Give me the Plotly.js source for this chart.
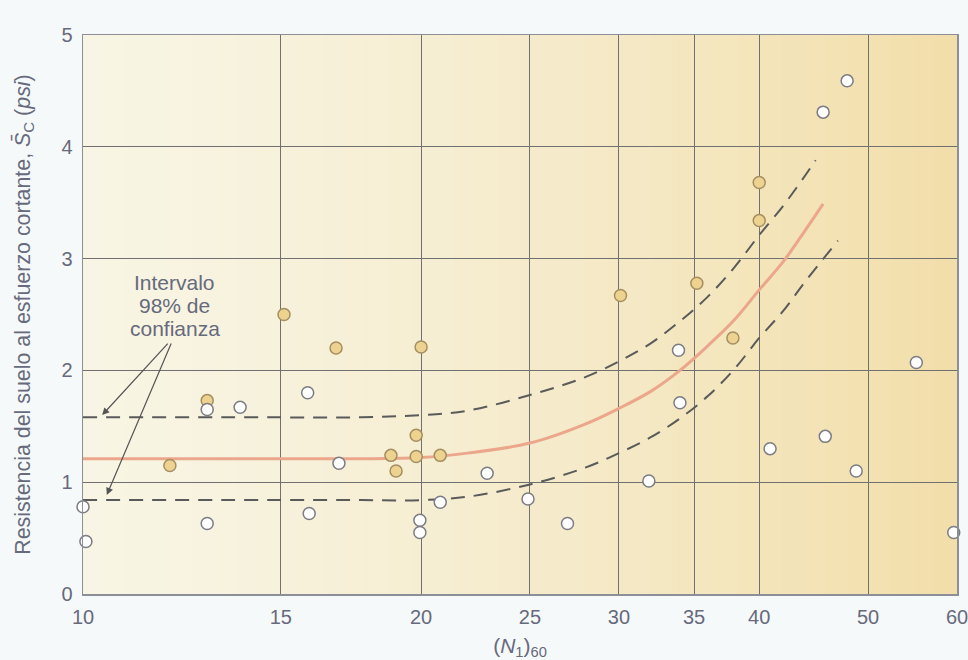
<!DOCTYPE html>
<html>
<head>
<meta charset="utf-8">
<script src="https://cdn.plot.ly/plotly-3.0.1.min.js"></script>
<style>html,body{margin:0;padding:0;background:#f6f9fa;}#chart{width:968px;height:660px;}</style>
</head>
<body>
<div id="chart"></div>
<script>
// x-axis tick labels
const xTicks = [10, 15, 20, 25, 30, 35, 40, 50, 60];
const yTicks = [0, 1, 2, 3, 4, 5];

// filled (tan) data points: (N1)60 and shear resistance
const filledN = [11.95, 12.9, 15.1, 16.8, 20.0, 18.8, 19.0, 19.8, 19.8, 20.8, 30.1, 35.2, 37.9, 40.0, 40.0];
const filledS = [1.15, 1.73, 2.50, 2.20, 2.21, 1.24, 1.10, 1.42, 1.23, 1.24, 2.67, 2.78, 2.29, 3.68, 3.34];

// open (white) data points
const openN = [10.0, 10.06, 12.9, 12.9, 13.8, 15.85, 15.9, 16.9, 19.95, 19.95, 20.8, 22.9, 24.9, 27.0, 31.9, 33.9, 34.0, 40.9, 45.8, 48.8, 45.6, 47.9, 55.2, 59.6];
const openS = [0.78, 0.47, 1.65, 0.63, 1.67, 1.80, 0.72, 1.17, 0.66, 0.55, 0.82, 1.08, 0.85, 0.63, 1.01, 2.18, 1.71, 1.30, 1.41, 1.10, 4.31, 4.59, 2.07, 0.55];

// fitted curve (orange)
const fitN = [10, 12.5, 15, 17.5, 20, 22, 25, 28, 30, 32, 34, 36, 38, 40, 42, 44, 45.6];
const fitS = [1.21, 1.21, 1.21, 1.21, 1.22, 1.26, 1.35, 1.52, 1.66, 1.81, 2.00, 2.22, 2.45, 2.72, 2.97, 3.26, 3.49];

// 98% confidence interval bounds (dashed)
const upperN = [10, 12.5, 15, 17.5, 20, 22, 25, 28, 30, 32, 34, 36, 38, 40, 42, 44, 44.9];
const upperS = [1.58, 1.58, 1.58, 1.58, 1.60, 1.64, 1.78, 1.94, 2.08, 2.24, 2.44, 2.66, 2.92, 3.21, 3.47, 3.75, 3.88];
const lowerN = [10, 12.5, 15, 17.5, 20, 22, 25, 28, 30, 32, 34, 36, 38, 40, 42, 44, 47];
const lowerS = [0.84, 0.84, 0.84, 0.84, 0.84, 0.87, 0.98, 1.13, 1.26, 1.40, 1.57, 1.77, 2.01, 2.29, 2.53, 2.80, 3.16];

const annLines = ["Intervalo", "98% de", "confianza"];

const FONT = "Liberation Sans, Arial, Helvetica, sans-serif";
const TXT = "#666a7c";

const traces = [
  {x: fitN, y: fitS, mode: "lines", line: {color: "#eca68c", width: 3, shape: "spline", smoothing: 1}, hoverinfo: "skip"},
  {x: upperN, y: upperS, mode: "lines", line: {color: "#5a5a5a", width: 2, dash: "14px,9px", shape: "spline", smoothing: 1}, hoverinfo: "skip"},
  {x: lowerN, y: lowerS, mode: "lines", line: {color: "#5a5a5a", width: 2, dash: "14px,9px", shape: "spline", smoothing: 1}, hoverinfo: "skip"},
  {x: filledN, y: filledS, mode: "markers", marker: {size: 12, color: "#eed28f", line: {color: "#a48f62", width: 1.5}}, cliponaxis: false},
  {x: openN, y: openS, mode: "markers", marker: {size: 12, color: "#ffffff", line: {color: "#7c7c84", width: 1.5}}, cliponaxis: false}
];

// background gradient strips (style only)
const shapes = [];
const nStrips = 40;
const c0 = [248, 245, 228], c1 = [242, 222, 170];
for (let i = 0; i < nStrips; i++) {
  const t = Math.pow((i + 0.5) / nStrips, 1.3);
  const c = c0.map((v, k) => Math.round(v + (c1[k] - v) * t));
  shapes.push({type: "rect", xref: "paper", yref: "paper", x0: i / nStrips, x1: (i + 1) / nStrips + 0.002, y0: 0, y1: 1,
    fillcolor: `rgb(${c[0]},${c[1]},${c[2]})`, line: {width: 0}, layer: "below"});
}

const annotations = [];
annLines.forEach((s, i) => {
  annotations.push({x: Math.log10(12.07), y: 2.585, xref: "x", yref: "y", text: s, showarrow: false,
    yshift: 23 * (1 - i), font: {family: FONT, size: 21, color: TXT}, xanchor: "center", yanchor: "middle"});
});
annotations.push({x: Math.log10(10.4), y: 1.60, xref: "x", yref: "y", text: "", showarrow: true, ax: 67, ay: -73,
  arrowhead: 2, arrowsize: 1.2, arrowwidth: 1.2, arrowcolor: "#555"});
annotations.push({x: Math.log10(10.5), y: 0.885, xref: "x", yref: "y", text: "", showarrow: true, ax: 65, ay: -153,
  arrowhead: 2, arrowsize: 1.2, arrowwidth: 1.2, arrowcolor: "#555"});

const layout = {
  width: 968, height: 660,
  margin: {l: 83, r: 11, t: 35, b: 66},
  paper_bgcolor: "#f6f9fa",
  plot_bgcolor: "#f8f5e3",
  showlegend: false,
  font: {family: FONT, color: TXT},
  shapes: shapes,
  annotations: annotations,
  xaxis: {
    type: "log", range: [1, Math.log10(60)],
    tickvals: xTicks, ticktext: xTicks.map(String),
    tickfont: {family: FONT, size: 20, color: TXT},
    showgrid: true, gridcolor: "#707070", gridwidth: 1,
    zeroline: false, showline: true, linecolor: "#8c8e98", linewidth: 1.5, mirror: true,
    ticks: "", ticklabelstandoff: 4, ticklabeloverflow: "allow",
    title: {text: "(<i>N</i><sub>1</sub>)<sub>60</sub>", font: {family: FONT, size: 21, color: TXT}, standoff: 12}
  },
  yaxis: {
    range: [0, 5], tickvals: yTicks, ticktext: yTicks.map(String),
    tickfont: {family: FONT, size: 20, color: TXT},
    showgrid: true, gridcolor: "#707070", gridwidth: 1,
    zeroline: false, showline: true, linecolor: "#8c8e98", linewidth: 1.5, mirror: true,
    ticks: "", ticklabelstandoff: 5, ticklabeloverflow: "allow",
    title: {text: "Resistencia del suelo al esfuerzo cortante, <i>S̄</i><sub>C</sub> (<i>psi</i>)", font: {family: FONT, size: 21.4, color: TXT}, standoff: 25}
  }
};

Plotly.newPlot("chart", traces, layout, {displayModeBar: false, staticPlot: true});
</script>
</body>
</html>
